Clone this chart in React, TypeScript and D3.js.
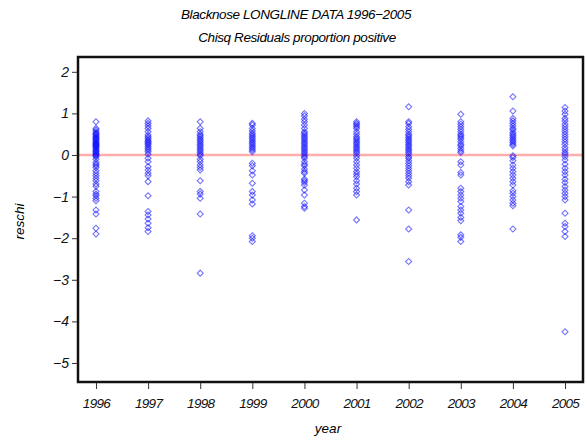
import { useRef, useEffect } from 'react';
import * as d3 from 'd3';

const years = [1996, 1997, 1998, 1999, 2000, 2001, 2002, 2003, 2004, 2005];
const yTicks = [2, 1, 0, -1, -2, -3, -4, -5];

// residuals per year
const r1996 = [0.8, 0.64, 0.6, 0.56, 0.52, 0.5, 0.48, 0.45, 0.42, 0.4, 0.38, 0.35, 0.33, 0.3, 0.28, 0.26, 0.24, 0.22, 0.2, 0.18, 0.15, 0.12, 0.1, 0.08, 0.05, 0.03, 0.0, -0.02, -0.05, -0.1, -0.18, -0.22, -0.26, -0.3, -0.38, -0.44, -0.5, -0.56, -0.62, -0.7, -0.75, -0.88, -0.94, -0.98, -1.04, -1.1, -1.32, -1.42, -1.76, -1.9];
const r1997 = [0.82, 0.76, 0.7, 0.64, 0.56, 0.48, 0.44, 0.4, 0.36, 0.33, 0.3, 0.27, 0.24, 0.2, 0.16, 0.12, 0.08, 0.02, -0.08, -0.16, -0.28, -0.36, -0.44, -0.5, -0.64, -0.98, -1.36, -1.44, -1.54, -1.64, -1.75, -1.84];
const r1998 = [0.8, 0.64, 0.56, 0.5, 0.46, 0.42, 0.38, 0.34, 0.3, 0.26, 0.22, 0.18, 0.14, 0.1, 0.06, 0.02, -0.02, -0.1, -0.16, -0.24, -0.3, -0.36, -0.62, -0.88, -0.94, -1.04, -1.42, -2.84];
const r1999 = [0.76, 0.72, 0.64, 0.58, 0.52, 0.48, 0.44, 0.4, 0.36, 0.32, 0.28, 0.24, 0.2, 0.16, 0.12, 0.08, -0.2, -0.26, -0.38, -0.48, -0.68, -0.88, -0.96, -1.08, -1.18, -1.94, -2.0, -2.08];
const r2000 = [1.0, 0.94, 0.86, 0.8, 0.72, 0.64, 0.56, 0.52, 0.48, 0.44, 0.4, 0.36, 0.32, 0.28, 0.24, 0.2, 0.16, 0.12, 0.08, 0.04, 0.0, -0.04, -0.08, -0.16, -0.22, -0.26, -0.34, -0.4, -0.44, -0.58, -0.62, -0.66, -0.72, -0.84, -0.96, -1.16, -1.24, -1.28];
const r2001 = [0.8, 0.76, 0.72, 0.68, 0.64, 0.56, 0.5, 0.44, 0.4, 0.36, 0.32, 0.28, 0.24, 0.2, 0.16, 0.12, 0.08, 0.04, -0.02, -0.08, -0.16, -0.24, -0.32, -0.4, -0.46, -0.52, -0.62, -0.7, -0.8, -0.88, -0.96, -1.56];
const r2002 = [1.16, 0.8, 0.76, 0.68, 0.62, 0.56, 0.5, 0.46, 0.42, 0.38, 0.34, 0.3, 0.26, 0.22, 0.18, 0.14, 0.1, 0.06, 0.02, -0.04, -0.08, -0.14, -0.2, -0.26, -0.32, -0.38, -0.44, -0.5, -0.56, -0.64, -0.72, -1.32, -1.78, -2.56];
const r2003 = [0.98, 0.8, 0.74, 0.68, 0.62, 0.56, 0.5, 0.46, 0.42, 0.38, 0.32, 0.26, 0.22, 0.16, 0.1, 0.06, -0.16, -0.24, -0.42, -0.48, -0.8, -0.88, -0.96, -1.04, -1.12, -1.24, -1.32, -1.4, -1.5, -1.58, -1.92, -1.98, -2.08];
const r2004 = [1.4, 1.06, 0.88, 0.82, 0.76, 0.7, 0.64, 0.6, 0.54, 0.5, 0.46, 0.42, 0.38, 0.34, 0.3, 0.26, 0.22, -0.02, -0.06, -0.14, -0.24, -0.32, -0.4, -0.48, -0.56, -0.64, -0.72, -0.86, -0.92, -1.0, -1.08, -1.16, -1.22, -1.78];
const r2005 = [1.14, 1.06, 0.98, 0.88, 0.82, 0.74, 0.68, 0.62, 0.56, 0.5, 0.44, 0.38, 0.32, 0.26, 0.18, 0.12, 0.06, 0.02, -0.04, -0.12, -0.22, -0.32, -0.4, -0.48, -0.58, -0.66, -0.76, -0.84, -0.92, -1.0, -1.08, -1.4, -1.64, -1.72, -1.84, -1.96, -4.25];

const residuals = [r1996, r1997, r1998, r1999, r2000, r2001, r2002, r2003, r2004, r2005];

const font = '"Liberation Sans", Arial, sans-serif';

export default function App() {
    const ref = useRef<SVGSVGElement | null>(null);

    useEffect(() => {
        const width = 587;
        const height = 441;
        const margin = { top: 57, right: 4, bottom: 59, left: 78 };

        const svg = d3.select(ref.current);
        svg.selectAll('*').remove();
        svg.attr('width', width).attr('height', height);

        const x = d3.scaleLinear()
            .domain([1995.655, 2005.345])
            .range([margin.left, width - margin.right]);
        const y = d3.scaleLinear()
            .domain([-5.457, 2.356])
            .range([height - margin.bottom, margin.top]);

        const points = residuals.flatMap((vals, i) => vals.map(v => ({ year: years[i], v })));

        // titles
        svg.append('text')
            .attr('x', 296).attr('y', 19)
            .attr('text-anchor', 'middle')
            .attr('font-family', font).attr('font-style', 'italic').attr('font-size', 13.5)
            .attr('letter-spacing', -0.4)
            .text('Blacknose LONGLINE DATA 1996\u22122005');
        svg.append('text')
            .attr('x', 297).attr('y', 42)
            .attr('text-anchor', 'middle')
            .attr('font-family', font).attr('font-style', 'italic').attr('font-size', 13.5)
            .attr('letter-spacing', -0.4)
            .text('Chisq Residuals proportion positive');

        // reference line at 0
        svg.append('line')
            .attr('x1', x.range()[0]).attr('x2', x.range()[1])
            .attr('y1', y(0)).attr('y2', y(0))
            .attr('stroke', '#ffadad').attr('stroke-width', 2.5);

        // markers
        const diamond = d3.symbol(d3.symbolSquare, 18)();
        svg.append('g')
            .selectAll('path')
            .data(points)
            .enter()
            .append('path')
            .attr('d', diamond)
            .attr('transform', d => `translate(${x(d.year)},${y(d.v)}) rotate(45)`)
            .attr('fill', 'none')
            .attr('stroke', '#0000ff')
            .attr('stroke-opacity', 0.55)
            .attr('stroke-width', 1.1);

        // frame
        svg.append('rect')
            .attr('x', margin.left).attr('y', margin.top)
            .attr('width', width - margin.left - margin.right)
            .attr('height', height - margin.top - margin.bottom)
            .attr('fill', 'none')
            .attr('stroke', '#111').attr('stroke-width', 2.5);

        // y axis
        const yAxis = svg.append('g')
            .attr('transform', `translate(${margin.left - 1},0)`)
            .call(d3.axisLeft(y).tickValues(yTicks).tickSize(5).tickPadding(3)
                .tickFormat(d => String(d).replace('-', '\u2212')));
        yAxis.select('.domain').remove();
        yAxis.selectAll('text')
            .attr('font-family', font).attr('font-style', 'italic').attr('font-size', 14)
            .attr('fill', '#111');
        yAxis.selectAll('line').attr('stroke', '#333');

        // x axis
        const xAxis = svg.append('g')
            .attr('transform', `translate(0,${height - margin.bottom + 1})`)
            .call(d3.axisBottom(x).tickValues(years).tickSize(6).tickPadding(9)
                .tickFormat(d3.format('d')));
        xAxis.select('.domain').remove();
        xAxis.selectAll('text')
            .attr('font-family', font).attr('font-style', 'italic').attr('font-size', 13.5)
            .attr('letter-spacing', -0.7)
            .attr('fill', '#111');
        xAxis.selectAll('line').attr('stroke', '#333');

        // axis labels
        svg.append('text')
            .attr('x', 328).attr('y', 433)
            .attr('text-anchor', 'middle')
            .attr('font-family', font).attr('font-style', 'italic').attr('font-size', 13.5)
            .text('year');
        svg.append('text')
            .attr('transform', `translate(24,${y(-1.6)}) rotate(-90)`)
            .attr('text-anchor', 'middle')
            .attr('font-family', font).attr('font-style', 'italic').attr('font-size', 13.5)
            .text('reschi');
    }, []);

    return (
        <div style={{ position: 'absolute', left: 0, top: 0, background: '#fff' }}>
            <svg ref={ref} style={{ display: 'block' }} />
        </div>
    );
}
